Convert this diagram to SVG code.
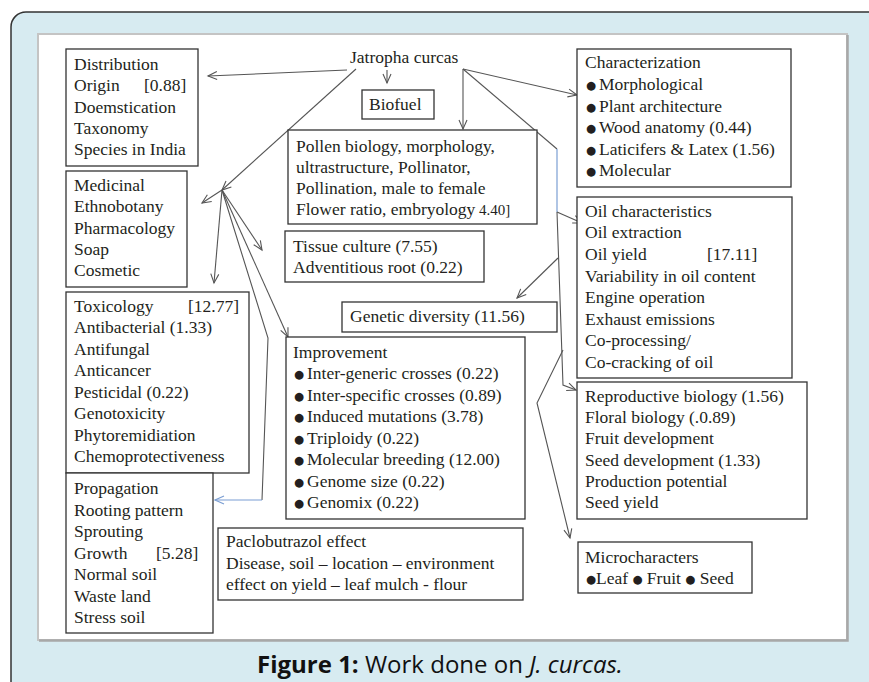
<svg xmlns="http://www.w3.org/2000/svg" width="869" height="682" viewBox="0 0 869 682">
<style>
text.t{font-family:'Liberation Serif','Times New Roman','DejaVu Serif',serif;font-size:17.5px;fill:#231f20}
.s{font-size:15px}
.b{font-family:'DejaVu Sans',sans-serif;font-size:11.5px}
.box{fill:#fff;stroke:#333;stroke-width:1.3}
.c{fill:none;stroke:#555;stroke-width:1.1}
.cb{fill:none;stroke:#7b9ed3;stroke-width:1.2}
text.cap{font-family:'Open Sans','Noto Sans',sans-serif;font-size:24px;fill:#111}
</style>
<defs>
<marker id="a" markerUnits="userSpaceOnUse" markerWidth="12" markerHeight="12" refX="10" refY="5" orient="auto">
<path d="M1,1 L10,5 L1,9" fill="none" stroke="#555" stroke-width="1.1"/>
</marker>
<marker id="ab" markerUnits="userSpaceOnUse" markerWidth="12" markerHeight="12" refX="10" refY="5" orient="auto">
<path d="M1,1 L10,5 L1,9" fill="none" stroke="#7b9ed3" stroke-width="1.2"/>
</marker>
</defs>
<rect x="0" y="0" width="869" height="682" fill="#fff"/>
<rect x="11" y="12" width="890" height="700" rx="15" fill="#d7ebf1" stroke="#333" stroke-width="1.5"/>
<rect x="38" y="34" width="809" height="606" fill="#fff" stroke="#c4c4c4" stroke-width="2"/>
<path d="M847.5,35 V640.5 H39" fill="none" stroke="#a8a8a8" stroke-width="2.5"/>

<g id="connectors">
<path class="c" d="M347,70 L208,76" marker-end="url(#a)"/>
<path class="c" d="M356,69 L222,190" marker-end="url(#a)"/>
<path class="c" d="M222,190 L202,203" marker-end="url(#a)"/>
<path class="c" d="M222,190 L214,283" marker-end="url(#a)"/>
<path class="c" d="M222,190 L262,250" marker-end="url(#a)"/>
<path class="c" d="M222,190 L288,337" marker-end="url(#a)"/>
<path class="c" d="M222,190 L268,338 L262,500"/>
<path class="cb" d="M262,500 L215,500" marker-end="url(#ab)"/>
<path class="cb" d="M187,587 L200,587" marker-end="url(#ab)"/>
<path class="c" d="M387,70 L387,83" marker-end="url(#a)"/>
<path class="c" d="M463,69 L463,129" marker-end="url(#a)"/>
<path class="c" d="M463,69 L577,95" marker-end="url(#a)"/>
<path class="c" d="M463,69 L557,149"/>
<path class="cb" d="M557,149 L557,212"/>
<path class="c" d="M557,212 L563,385 L576,390" marker-end="url(#a)"/>
<path class="c" d="M557,212 L582,223" marker-end="url(#a)"/>
<path class="c" d="M558,258 L517,298" marker-end="url(#a)"/>
<path class="c" d="M563,350 L537,403 L570,538" marker-end="url(#a)"/>
</g>

<g font-family="'Liberation Serif','Times New Roman','DejaVu Serif',serif">
<g id="jatropha">
<text class="t" x="350" y="63">Jatropha curcas</text>
</g>

<g id="distribution">
<rect class="box" x="66" y="49" width="132" height="117"/>
<text class="t" x="74" y="70">Distribution</text>
<text class="t" x="74" y="91">Origin<tspan x="144">[0.88]</tspan></text>
<text class="t" x="74" y="113">Doemstication</text>
<text class="t" x="74" y="134">Taxonomy</text>
<text class="t" x="74" y="155">Species in India</text>
</g>

<g id="medicinal">
<rect class="box" x="66" y="171" width="121" height="116"/>
<text class="t" x="74" y="191">Medicinal</text>
<text class="t" x="74" y="212">Ethnobotany</text>
<text class="t" x="74" y="234">Pharmacology</text>
<text class="t" x="74" y="255">Soap</text>
<text class="t" x="74" y="276">Cosmetic</text>
</g>

<g id="toxicology">
<rect class="box" x="66" y="292" width="183" height="181"/>
<text class="t" x="74" y="312">Toxicology<tspan x="188">[12.77]</tspan></text>
<text class="t" x="74" y="333">Antibacterial (1.33)</text>
<text class="t" x="74" y="355">Antifungal</text>
<text class="t" x="74" y="376">Anticancer</text>
<text class="t" x="74" y="398">Pesticidal (0.22)</text>
<text class="t" x="74" y="419">Genotoxicity</text>
<text class="t" x="74" y="441">Phytoremidiation</text>
<text class="t" x="74" y="462">Chemoprotectiveness</text>
</g>

<g id="propagation">
<rect class="box" x="66" y="473" width="147" height="160"/>
<text class="t" x="74" y="494">Propagation</text>
<text class="t" x="74" y="516">Rooting pattern</text>
<text class="t" x="74" y="537">Sprouting</text>
<text class="t" x="74" y="559">Growth<tspan x="156">[5.28]</tspan></text>
<text class="t" x="74" y="580">Normal soil</text>
<text class="t" x="74" y="602">Waste land</text>
<text class="t" x="74" y="623">Stress soil</text>
</g>

<g id="biofuel">
<rect class="box" x="362" y="90" width="72" height="29"/>
<text class="t" x="369" y="110">Biofuel</text>
</g>

<g id="pollen">
<rect class="box" x="288" y="130" width="249" height="94"/>
<text class="t" x="296" y="152">Pollen biology, morphology,</text>
<text class="t" x="296" y="173">ultrastructure, Pollinator,</text>
<text class="t" x="296" y="194">Pollination, male to female</text>
<text class="t" x="296" y="215">Flower ratio, embryology <tspan class="s" x="479">4.40]</tspan></text>
</g>

<g id="tissue">
<rect class="box" x="285" y="231" width="199" height="51"/>
<text class="t" x="293" y="252">Tissue culture (7.55)</text>
<text class="t" x="293" y="273">Adventitious root (0.22)</text>
</g>

<g id="genetic">
<rect class="box" x="342" y="302" width="215" height="30"/>
<text class="t" x="350" y="322">Genetic diversity (11.56)</text>
</g>

<g id="improvement">
<rect class="box" x="286" y="337" width="239" height="182"/>
<text class="t" x="293" y="358">Improvement</text>
<text class="t" x="294" y="379"><tspan class="b" dy="-1">●</tspan><tspan x="307" dy="1">Inter-generic crosses (0.22)</tspan></text>
<text class="t" x="294" y="401"><tspan class="b" dy="-1">●</tspan><tspan x="307" dy="1">Inter-specific crosses (0.89)</tspan></text>
<text class="t" x="294" y="422"><tspan class="b" dy="-1">●</tspan><tspan x="307" dy="1">Induced mutations (3.78)</tspan></text>
<text class="t" x="294" y="444"><tspan class="b" dy="-1">●</tspan><tspan x="307" dy="1">Triploidy (0.22)</tspan></text>
<text class="t" x="294" y="465"><tspan class="b" dy="-1">●</tspan><tspan x="307" dy="1">Molecular breeding (12.00)</tspan></text>
<text class="t" x="294" y="487"><tspan class="b" dy="-1">●</tspan><tspan x="307" dy="1">Genome size (0.22)</tspan></text>
<text class="t" x="294" y="508"><tspan class="b" dy="-1">●</tspan><tspan x="307" dy="1">Genomix (0.22)</tspan></text>
</g>

<g id="paclobutrazol">
<rect class="box" x="218" y="528" width="305" height="72"/>
<text class="t" x="226" y="547">Paclobutrazol effect</text>
<text class="t" x="226" y="569">Disease, soil – location – environment</text>
<text class="t" x="226" y="590">effect on yield – leaf mulch - flour</text>
</g>

<g id="characterization">
<rect class="box" x="577" y="49" width="214" height="138"/>
<text class="t" x="585" y="68">Characterization</text>
<text class="t" x="586" y="90"><tspan class="b" dy="-1">●</tspan><tspan x="599" dy="1">Morphological</tspan></text>
<text class="t" x="586" y="112"><tspan class="b" dy="-1">●</tspan><tspan x="599" dy="1">Plant architecture</tspan></text>
<text class="t" x="586" y="133"><tspan class="b" dy="-1">●</tspan><tspan x="599" dy="1">Wood anatomy (0.44)</tspan></text>
<text class="t" x="586" y="155"><tspan class="b" dy="-1">●</tspan><tspan x="599" dy="1">Laticifers &amp; Latex (1.56)</tspan></text>
<text class="t" x="586" y="176"><tspan class="b" dy="-1">●</tspan><tspan x="599" dy="1">Molecular</tspan></text>
</g>

<g id="oil">
<rect class="box" x="577" y="197" width="215" height="181"/>
<text class="t" x="585" y="217">Oil characteristics</text>
<text class="t" x="585" y="238">Oil extraction</text>
<text class="t" x="585" y="260">Oil yield<tspan x="707">[17.11]</tspan></text>
<text class="t" x="585" y="282">Variability in oil content</text>
<text class="t" x="585" y="303">Engine operation</text>
<text class="t" x="585" y="325">Exhaust emissions</text>
<text class="t" x="585" y="346">Co-processing/</text>
<text class="t" x="585" y="368">Co-cracking of oil</text>
</g>

<g id="reproductive">
<rect class="box" x="577" y="382" width="230" height="137"/>
<text class="t" x="585" y="402">Reproductive biology (1.56)</text>
<text class="t" x="585" y="423">Floral biology (.0.89)</text>
<text class="t" x="585" y="444">Fruit development</text>
<text class="t" x="585" y="466">Seed development (1.33)</text>
<text class="t" x="585" y="487">Production potential</text>
<text class="t" x="585" y="508">Seed yield</text>
</g>

<g id="microcharacters">
<rect class="box" x="578" y="542" width="174" height="51"/>
<text class="t" x="585" y="563">Microcharacters</text>
<text class="t" x="586" y="584"><tspan class="b" dy="-1">●</tspan><tspan x="596" dy="1">Leaf </tspan><tspan class="b" dy="-1">●</tspan><tspan dy="1"> Fruit </tspan><tspan class="b" dy="-1">●</tspan><tspan dy="1"> Seed</tspan></text>
</g>
</g>

<g id="caption">
<text class="cap" x="257" y="673"><tspan font-weight="bold">Figure 1:</tspan> Work done on <tspan font-style="italic">J. curcas.</tspan></text>
</g>
</svg>
